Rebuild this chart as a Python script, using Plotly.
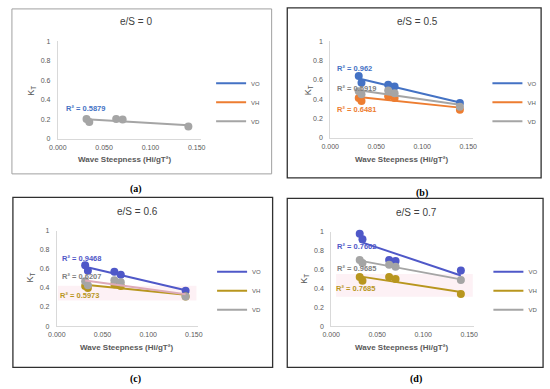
import numpy as np
import plotly.graph_objects as go

# ---------------- data ----------------
steep = [0.031, 0.034, 0.063, 0.070, 0.141]

a_VD = [0.20, 0.17, 0.20, 0.195, 0.125]

b_VO = [0.64, 0.57, 0.55, 0.53, 0.36]
b_VH = [0.41, 0.38, 0.43, 0.41, 0.29]
b_VD = [0.48, 0.45, 0.49, 0.46, 0.32]

c_VO = [0.64, 0.58, 0.57, 0.54, 0.37]
c_VH = [0.42, 0.40, 0.44, 0.42, 0.31]
c_VD = [0.47, 0.43, 0.48, 0.46, 0.31]

d_VO = [0.98, 0.92, 0.70, 0.69, 0.59]
d_VH = [0.52, 0.48, 0.52, 0.50, 0.34]
d_VD = [0.70, 0.67, 0.65, 0.63, 0.49]

titles = ["e/S = 0", "e/S = 0.5", "e/S = 0.6", "e/S = 0.7"]
panel_labels = ["(a)", "(b)", "(c)", "(d)"]
series_names = ["VO", "VH", "VD"]
r2_text = {
    0: [("R² = 0.5879", "#4472C4")],
    1: [("R² = 0.962", "#4472C4"), ("R² = 0.5919", "#7F7F7F"), ("R² = 0.6481", "#ED7D31")],
    2: [("R² = 0.9468", "#4F58C8"), ("R² = 0.6207", "#7F7F7F"), ("R² = 0.5973", "#B8961E")],
    3: [("R² = 0.7662", "#4F58C8"), ("R² = 0.9685", "#7F7F7F"), ("R² = 0.7685", "#B8961E")],
}
x_ticks = [0, 0.05, 0.10, 0.15]

W, H = 550, 389
def px(x): return x / W
def py(y): return 1 - y / H

panels = [
    dict(data=[None, None, a_VD], colors=["#4472C4", "#ED7D31", "#A5A5A5"],
         tcolors=["#4472C4", "#ED7D31", "#A5A5A5"],
         area=(50, 197, 38, 137), box=(3, 5, 269, 173), bcol="#A0A0A0",
         title=(130, 18), lab=(130, 188), leg=(207, 66), r2=[(56, 106)],
         xt=(118, 158), yt=(23, 88)),
    dict(data=[b_VO, b_VH, b_VD], colors=["#4472C4", "#ED7D31", "#A5A5A5"],
         tcolors=["#4472C4", "#ED7D31", "#A5A5A5"],
         area=(329, 475, 38, 136), box=(285, 4, 545, 177), bcol="#303030",
         title=(418, 18), lab=(423, 192), leg=(490, 66), r2=[(334, 66), (334, 86), (334, 107)],
         xt=(402, 158), yt=(307, 88)),
    dict(data=[c_VO, c_VH, c_VD], colors=["#4F58C8", "#B8961E", "#A5A5A5"],
         tcolors=["#4F58C8", "#B8961E", "#DDAAB8"],
         area=(49, 194, 231, 328), box=(4, 197, 270, 370), bcol="#303030",
         title=(132, 211), lab=(130, 382), leg=(208, 258), r2=[(52, 259), (52, 278), (50, 297)],
         xt=(120, 350), yt=(23, 278)),
    dict(data=[d_VO, d_VH, d_VD], colors=["#4F58C8", "#B8961E", "#A5A5A5"],
         tcolors=["#4F58C8", "#B8961E", "#A5A5A5"],
         area=(330, 476, 232, 328), box=(285, 198, 547, 370), bcol="#303030",
         title=(417, 212), lab=(417, 382), leg=(491, 258), r2=[(334, 247), (334, 269), (333, 290)],
         xt=(402, 350), yt=(303, 280)),
]

fig = go.Figure()
shapes = []
annotations = []
layout_axes = {}
legend_names = ["legend", "legend2", "legend3", "legend4"]

# faint pink highlight artifacts seen in the reference
shapes.append(dict(type="rect", xref="paper", yref="paper", x0=px(50), x1=px(192), y0=py(302), y1=py(287),
                   fillcolor="#FDF1F5", line=dict(width=0), layer="below"))
shapes.append(dict(type="rect", xref="paper", yref="paper", x0=px(335), x1=px(475), y0=py(298), y1=py(275),
                   fillcolor="#FDF1F5", line=dict(width=0), layer="below"))

def ann(text, x, y, size, color, family="Liberation Sans", xanchor="center", angle=0):
    return dict(text=text, x=px(x), y=py(y), xref="paper", yref="paper", showarrow=False,
                xanchor=xanchor, yanchor="middle", textangle=angle,
                font=dict(size=size, color=color, family=family))

for i, p in enumerate(panels):
    xa = "xaxis" if i == 0 else f"xaxis{i+1}"
    ya = "yaxis" if i == 0 else f"yaxis{i+1}"
    xr = "x" if i == 0 else f"x{i+1}"
    yr = "y" if i == 0 else f"y{i+1}"
    x0, x1, yt_, yb = p["area"]
    layout_axes[xa] = dict(domain=[px(x0), px(x1)], range=[0, 0.155], anchor=yr,
                           tickvals=x_ticks, tickformat=".3f", showgrid=False, zeroline=False,
                           showline=True, linecolor="#D9D9D9", linewidth=1, ticklabelstandoff=2,
                           tickfont=dict(size=7, color="#595959", family="Liberation Sans"))
    layout_axes[ya] = dict(domain=[py(yb), py(yt_)], range=[0, 1], anchor=xr, dtick=0.2,
                           showgrid=False, zeroline=False, showline=True, linecolor="#D9D9D9",
                           linewidth=1, ticklabelstandoff=5,
                           tickfont=dict(size=7, color="#595959", family="Liberation Sans"))
    leg = legend_names[i]
    for k, vals in enumerate(p["data"]):
        if vals is not None:
            fig.add_trace(go.Scatter(x=steep, y=vals, mode="markers", xaxis=xr, yaxis=yr,
                                     marker=dict(size=8, color=p["colors"][k]), showlegend=False,
                                     cliponaxis=False))
            m, c = np.polyfit(steep, vals, 1)
            xs = [min(steep), max(steep)]
            ys = [m * v + c for v in xs]
            fig.add_trace(go.Scatter(x=xs, y=ys, mode="lines", xaxis=xr, yaxis=yr,
                                     line=dict(color=p["tcolors"][k], width=2), showlegend=False))
        fig.add_trace(go.Scatter(x=[None], y=[None], mode="lines", xaxis=xr, yaxis=yr,
                                 name=series_names[k], line=dict(color=p["colors"][k], width=2),
                                 legend=leg, showlegend=True))
    lx, ly = p["leg"]
    layout_axes[leg] = dict(x=px(lx), y=py(ly), xanchor="left", yanchor="top",
                            font=dict(size=6, color="#595959", family="Liberation Sans"),
                            bgcolor="rgba(0,0,0,0)", itemwidth=30, tracegroupgap=0,
                            traceorder="normal")
    bx0, by0, bx1, by1 = p["box"]
    shapes.append(dict(type="rect", xref="paper", yref="paper", x0=px(bx0), x1=px(bx1),
                       y0=py(by1), y1=py(by0), line=dict(color=p["bcol"], width=1.3 if i else 1)))
    annotations.append(ann(titles[i], *p["title"], 10, "#404040"))
    annotations.append(ann(f"<b>{panel_labels[i]}</b>", *p["lab"], 10, "#000000", "Liberation Serif"))
    annotations.append(ann("<b>Wave Steepness (Hi/gT²)</b>", *p["xt"], 8, "#595959"))
    annotations.append(ann("K<sub>T</sub>", *p["yt"], 9, "#595959", angle=-90))
    for (txt, col), (rx, ry) in zip(r2_text[i], p["r2"]):
        annotations.append(ann(f"<b>{txt}</b>", rx, ry, 7.5, col, xanchor="left"))

fig.update_layout(width=W, height=H, margin=dict(l=0, r=0, t=0, b=0),
                  paper_bgcolor="white", plot_bgcolor="rgba(0,0,0,0)",
                  shapes=shapes, annotations=annotations, **layout_axes)

fig.write_html("out.html", config={"displayModeBar": False},
               post_script="document.body.style.margin='0';document.body.style.overflow='hidden';")
